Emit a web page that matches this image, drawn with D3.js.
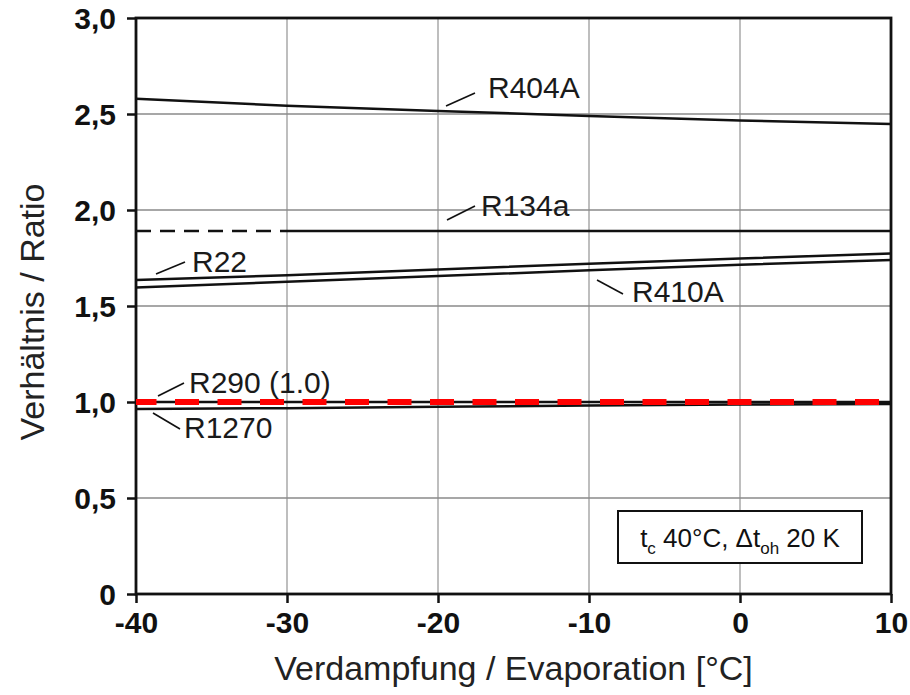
<!DOCTYPE html>
<html>
<head>
<meta charset="utf-8">
<script src="https://cdn.jsdelivr.net/npm/d3@7"></script>
<style>
  body { margin: 0; background: #fff; }
  svg { font-family: "Liberation Sans", Arial, Helvetica, sans-serif; }
</style>
</head>
<body>
<div id="chart"></div>
<script>
const temps = [-40, -30, -20, -10, 0, 10];
const r404a = [2.58, 2.543, 2.516, 2.49, 2.466, 2.448];
const r134a = [1.89, 1.89, 1.89, 1.89, 1.89, 1.89];
const r22 = [1.635, 1.66, 1.69, 1.72, 1.747, 1.774];
const r410a = [1.597, 1.626, 1.656, 1.686, 1.715, 1.74];
const r290 = [1.0, 1.0, 1.0, 1.0, 1.0, 1.0];
const r1270 = [0.963, 0.968, 0.975, 0.982, 0.987, 0.99];
const xTicks = [-40, -30, -20, -10, 0, 10];
const xTickLabels = ['-40', '-30', '-20', '-10', '0', '10'];
const yTicks = [0, 0.5, 1.0, 1.5, 2.0, 2.5, 3.0];
const yTickLabels = ['0', '0,5', '1,0', '1,5', '2,0', '2,5', '3,0'];

const width = 910;
const height = 695;
const margin = {top: 18, right: 19, bottom: 101, left: 136};

// Scales
const xScale = d3.scaleLinear()
  .domain([-40, 10])
  .range([margin.left, width - margin.right]);

const yScale = d3.scaleLinear()
  .domain([0, 3])
  .range([height - margin.bottom, margin.top]);

const svg = d3.select('#chart').append('svg')
  .attr('width', width)
  .attr('height', height);

svg.append('rect')
  .attr('width', width)
  .attr('height', height)
  .attr('fill', '#fff');

// Grid
svg.append('g')
  .selectAll('line')
  .data(xTicks.slice(1, -1))
  .enter().append('line')
  .attr('x1', d => xScale(d))
  .attr('x2', d => xScale(d))
  .attr('y1', yScale(3))
  .attr('y2', yScale(0))
  .attr('stroke', '#a8a8a8')
  .attr('stroke-width', 1.5);

svg.append('g')
  .selectAll('line')
  .data(yTicks.slice(1, -1))
  .enter().append('line')
  .attr('x1', xScale(-40))
  .attr('x2', xScale(10))
  .attr('y1', d => yScale(d))
  .attr('y2', d => yScale(d))
  .attr('stroke', '#8a8a8a')
  .attr('stroke-width', 1.3);

// Axis
let xAxis = d3.axisBottom(xScale)
  .tickValues(xTicks)
  .tickSize(9)
  .tickPadding(5)
  .tickFormat((d, i) => xTickLabels[i]);

let yAxis = d3.axisLeft(yScale)
  .tickValues(yTicks)
  .tickSize(9)
  .tickPadding(11)
  .tickFormat((d, i) => yTickLabels[i]);

let xAxisG = svg.append('g')
  .attr('transform', `translate(0, ${yScale(0)})`)
  .call(xAxis);

let yAxisG = svg.append('g')
  .attr('transform', `translate(${xScale(-40)}, 0)`)
  .call(yAxis);

[xAxisG, yAxisG].forEach(g => {
  g.select('.domain').remove();
  g.selectAll('line').attr('stroke', '#111').attr('stroke-width', 2.5);
  g.selectAll('text')
    .attr('fill', '#111')
    .style('font-size', '30px')
    .style('font-weight', 'bold');
});
xAxisG.selectAll('text').attr('dy', '0.82em');
yAxisG.selectAll('text').attr('dy', '0.36em');

// frame
svg.append('rect')
  .attr('x', xScale(-40))
  .attr('y', yScale(3))
  .attr('width', xScale(10) - xScale(-40))
  .attr('height', yScale(0) - yScale(3))
  .attr('fill', 'none')
  .attr('stroke', '#111')
  .attr('stroke-width', 2.8);

// Lines
const line = d3.line()
  .x(d => xScale(d[0]))
  .y(d => yScale(d[1]));

const pairs = vals => temps.map((t, i) => [t, vals[i]]);

const series = [r404a, r22, r410a, r1270, r290];
svg.append('g')
  .selectAll('path')
  .data(series)
  .enter().append('path')
  .attr('d', d => line(pairs(d)))
  .attr('fill', 'none')
  .attr('stroke', '#111')
  .attr('stroke-width', 2.5);

// R134a: dashed below -30, solid above
svg.append('path')
  .attr('d', line(pairs(r134a).filter(d => d[0] <= -30)))
  .attr('fill', 'none')
  .attr('stroke', '#111')
  .attr('stroke-width', 2.5)
  .attr('stroke-dasharray', '15,9');

svg.append('path')
  .attr('d', line(pairs(r134a).filter(d => d[0] >= -30)))
  .attr('fill', 'none')
  .attr('stroke', '#111')
  .attr('stroke-width', 2.5);

// red reference line at 1.0
svg.append('path')
  .attr('d', line(pairs(r290)))
  .attr('fill', 'none')
  .attr('stroke', '#ff0000')
  .attr('stroke-width', 6)
  .attr('stroke-dasharray', '24,18.5')
  .attr('stroke-dashoffset', 3.5);

// Labels
const labels = [
  {text: 'R404A', x: 488, y: 98, lx1: 446, ly1: 106, lx2: 475, ly2: 93},
  {text: 'R134a', x: 481, y: 216, lx1: 447, ly1: 220, lx2: 475, ly2: 206},
  {text: 'R22', x: 192, y: 272, lx1: 156, ly1: 274, lx2: 185, ly2: 262},
  {text: 'R410A', x: 632, y: 302, lx1: 597, ly1: 280, lx2: 623, ly2: 294},
  {text: 'R290 (1.0)', x: 189, y: 393, lx1: 158, ly1: 396, lx2: 184, ly2: 383},
  {text: 'R1270', x: 184, y: 438, lx1: 153, ly1: 413, lx2: 180, ly2: 429}
];

let labelG = svg.append('g');
labelG.selectAll('line')
  .data(labels)
  .enter().append('line')
  .attr('x1', d => d.lx1)
  .attr('y1', d => d.ly1)
  .attr('x2', d => d.lx2)
  .attr('y2', d => d.ly2)
  .attr('stroke', '#111')
  .attr('stroke-width', 1.6);

labelG.selectAll('text')
  .data(labels)
  .enter().append('text')
  .attr('x', d => d.x)
  .attr('y', d => d.y)
  .attr('fill', '#1a1a1a')
  .style('font-size', '30px')
  .text(d => d.text);

// condition box
svg.append('rect')
  .attr('x', 618)
  .attr('y', 511)
  .attr('width', 244)
  .attr('height', 52)
  .attr('fill', '#fff')
  .attr('stroke', '#111')
  .attr('stroke-width', 2);

let note = svg.append('text')
  .attr('x', 740)
  .attr('y', 547)
  .attr('text-anchor', 'middle')
  .attr('fill', '#111')
  .style('font-size', '26px');
note.append('tspan').text('t');
note.append('tspan').attr('dy', 7).style('font-size', '17px').text('c');
note.append('tspan').attr('dy', -7).text(' 40°C, Δt');
note.append('tspan').attr('dy', 7).style('font-size', '17px').text('oh');
note.append('tspan').attr('dy', -7).text(' 20 K');

// Axis titles
svg.append('text')
  .attr('x', (xScale(-40) + xScale(10)) / 2)
  .attr('y', 680)
  .attr('text-anchor', 'middle')
  .attr('fill', '#222')
  .style('font-size', '34px')
  .text('Verdampfung / Evaporation [°C]');

svg.append('text')
  .attr('transform', 'rotate(-90)')
  .attr('x', -312)
  .attr('y', 44)
  .attr('text-anchor', 'middle')
  .attr('fill', '#222')
  .style('font-size', '34px')
  .text('Verhältnis / Ratio');
</script>
</body>
</html>
